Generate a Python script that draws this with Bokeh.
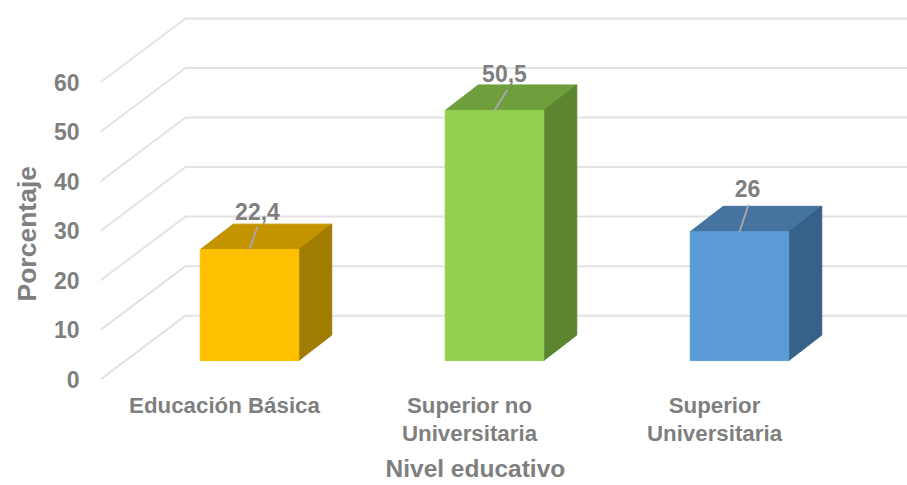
from bokeh.plotting import figure
from bokeh.models import Range1d, FixedTicker, ColumnDataSource, Title
from bokeh.embed import file_html
from bokeh.resources import INLINE
from bokeh.core.properties import value

categories = ["Educación Básica", "Superior no\nUniversitaria", "Superior\nUniversitaria"]
porcentaje = [22.4, 50.5, 26]
labels = ["22,4", "50,5", "26"]
ticks = [0, 10, 20, 30, 40, 50, 60]
front_colors = ["#FFC000", "#92D050", "#5B9BD5"]
top_colors = ["#C49300", "#6F9E3C", "#44749F"]
side_colors = ["#A07D00", "#5B8531", "#36618A"]

GREY = "#7F7F7F"
FONT = "Liberation Sans"
XPX = 245.0
YPX = 4.967
W, H = 907, 485
LEFT, BOTTOM = 100, 105

x0 = -(224 - 100) / XPX
x1 = (907 - 224) / XPX
p = figure(width=W, height=H, output_backend="svg", toolbar_location=None,
           x_range=Range1d(x0, x1), y_range=Range1d(0, 380 / YPX),
           min_border_left=LEFT, min_border_right=0, min_border_top=0, min_border_bottom=BOTTOM)
p.outline_line_color = None
p.xgrid.visible = False
p.ygrid.visible = False

# axes
p.yaxis.ticker = FixedTicker(ticks=ticks)
p.xaxis.ticker = FixedTicker(ticks=list(range(len(categories))))
p.xaxis.major_label_overrides = {i: c for i, c in enumerate(categories)}
for ax in (p.xaxis[0], p.yaxis[0]):
    ax.axis_line_color = None
    ax.major_tick_line_color = None
    ax.minor_tick_line_color = None
    ax.major_tick_out = 0
    ax.major_tick_in = 0
    ax.major_label_text_color = GREY
    ax.major_label_text_font = FONT
    ax.major_label_text_font_style = "bold"
p.yaxis.major_label_text_font_size = "23px"
p.yaxis.major_label_standoff = 21
p.xaxis.major_label_text_font_size = "22.3px"
p.xaxis.major_label_standoff = 13
p.xaxis.major_label_text_line_height = 1.13

p.add_layout(Title(text="Nivel educativo", align="left", offset=285, standoff=8,
                   text_color=GREY, text_font=FONT, text_font_style="bold",
                   text_font_size="24.5px"), "below")
p.add_layout(Title(text="Porcentaje", align="left", offset=78, standoff=18,
                   text_color=GREY, text_font=FONT, text_font_style="bold",
                   text_font_size="26.5px"), "left")

# depth offsets, in data units
bar_dx, bar_dy = 25 / XPX, 19 / YPX          # axis plane -> bar front
depth_dx, depth_dy = 33 / XPX, 25.5 / YPX    # bar front -> bar back
wall_dx, wall_dy = 85 / XPX, 64 / YPX        # axis plane -> back wall
half = 49.25 / XPX

# gridlines: floor-side diagonal then back wall
gx, gy = [], []
for t in ticks:
    gx.append([x0, x0 + wall_dx, x1])
    gy.append([t, t + wall_dy, t + wall_dy])
p.multi_line(gx, gy, line_color="#E3E3E3", line_width=2)

# bars
front_x, front_y, top_x, top_y, side_x, side_y = [], [], [], [], [], []
for i, v in enumerate(porcentaje):
    l = i + bar_dx - half
    r = i + bar_dx + half
    b = bar_dy
    t = bar_dy + v
    front_x.append([l, r, r, l]); front_y.append([b, b, t, t])
    top_x.append([l, r, r + depth_dx, l + depth_dx]); top_y.append([t, t, t + depth_dy, t + depth_dy])
    side_x.append([r, r + depth_dx, r + depth_dx, r]); side_y.append([b, b + depth_dy, t + depth_dy, t])
p.patches(top_x, top_y, fill_color=top_colors, line_color=top_colors, line_width=1)
p.patches(side_x, side_y, fill_color=side_colors, line_color=side_colors, line_width=1)
p.patches(front_x, front_y, fill_color=front_colors, line_color=front_colors, line_width=1)

# leader lines and data labels
lead_dx = [8, 13, 9]
lead_dy = [23, 21, 27]
text_dx = [8, 10, 8]
text_dy = [38, 37, 43]
lx = [[i + bar_dx, i + bar_dx + lead_dx[i] / XPX] for i in range(3)]
ly = [[bar_dy + v, bar_dy + v + lead_dy[i] / YPX] for i, v in enumerate(porcentaje)]
p.multi_line(lx, ly, line_color="#A6A6A6", line_width=2)

src = ColumnDataSource(dict(
    x=[i + bar_dx + text_dx[i] / XPX for i in range(3)],
    y=[bar_dy + v + text_dy[i] / YPX for i, v in enumerate(porcentaje)],
    t=labels))
p.text("x", "y", text="t", source=src, text_align="center", text_baseline="middle",
       text_color=GREY, text_font=value(FONT), text_font_style="bold", text_font_size="23px")

open("out.html", "w").write(file_html(p, INLINE))
